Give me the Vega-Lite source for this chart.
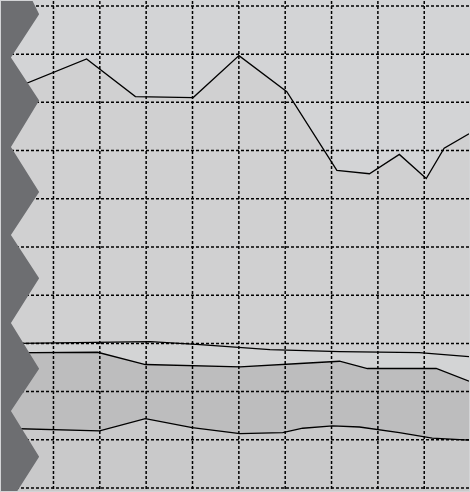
{
  "$schema": "https://vega.github.io/schema/vega-lite/v6.json",
  "width": 470,
  "height": 492,
  "padding": 0,
  "autosize": {"type": "fit", "contains": "padding"},
  "background": "#d3d4d6",
  "config": {"view": {"stroke": null}},
  "datasets": {
    "series": [
      {"s": "top", "t": -0.132, "v": 8.18},
      {"s": "top", "t": 1.715, "v": 8.90},
      {"s": "top", "t": 2.768, "v": 8.12},
      {"s": "top", "t": 4.015, "v": 8.10},
      {"s": "top", "t": 5.003, "v": 8.97},
      {"s": "top", "t": 6.035, "v": 8.22},
      {"s": "top", "t": 7.115, "v": 6.59},
      {"s": "top", "t": 7.818, "v": 6.52},
      {"s": "top", "t": 8.463, "v": 6.92},
      {"s": "top", "t": 9.043, "v": 6.42},
      {"s": "top", "t": 9.430, "v": 7.05},
      {"s": "top", "t": 9.966, "v": 7.35},
      {"s": "A", "t": -0.132, "v": 2.996},
      {"s": "A", "t": 3.091, "v": 3.037},
      {"s": "A", "t": 4.165, "v": 2.975},
      {"s": "A", "t": 5.669, "v": 2.872},
      {"s": "A", "t": 7.173, "v": 2.831},
      {"s": "A", "t": 8.892, "v": 2.810},
      {"s": "A", "t": 9.966, "v": 2.727},
      {"s": "B", "t": -0.132, "v": 2.804},
      {"s": "B", "t": 1.952, "v": 2.816},
      {"s": "B", "t": 2.983, "v": 2.562},
      {"s": "B", "t": 5.025, "v": 2.514},
      {"s": "B", "t": 6.314, "v": 2.583},
      {"s": "B", "t": 7.173, "v": 2.630},
      {"s": "B", "t": 7.775, "v": 2.479},
      {"s": "B", "t": 9.258, "v": 2.479},
      {"s": "B", "t": 9.966, "v": 2.217},
      {"s": "C", "t": -0.132, "v": 1.240},
      {"s": "C", "t": 1.995, "v": 1.184},
      {"s": "C", "t": 2.983, "v": 1.440},
      {"s": "C", "t": 3.993, "v": 1.254},
      {"s": "C", "t": 5.025, "v": 1.130},
      {"s": "C", "t": 5.948, "v": 1.151},
      {"s": "C", "t": 6.378, "v": 1.240},
      {"s": "C", "t": 7.023, "v": 1.287},
      {"s": "C", "t": 7.603, "v": 1.266},
      {"s": "C", "t": 8.463, "v": 1.150},
      {"s": "C", "t": 9.172, "v": 1.033},
      {"s": "C", "t": 9.966, "v": 0.992}
    ],
    "hgrid": [
      {"g": 0}, {"g": 1}, {"g": 2}, {"g": 3}, {"g": 4}, {"g": 5},
      {"g": 6}, {"g": 7}, {"g": 8}, {"g": 9}, {"g": 10}
    ],
    "vgrid": [
      {"g": 0}, {"g": 1}, {"g": 2}, {"g": 3}, {"g": 4}, {"g": 5},
      {"g": 6}, {"g": 7}, {"g": 8}, {"g": 9}
    ],
    "edge": [
      {"zy": 10.103, "zx": 0.55},
      {"zy": 9.829, "zx": 0.691},
      {"zy": 8.932, "zx": 0.0825},
      {"zy": 8.037, "zx": 0.691},
      {"zy": 7.072, "zx": 0.0825},
      {"zy": 6.143, "zx": 0.691},
      {"zy": 5.248, "zx": 0.0825},
      {"zy": 4.353, "zx": 0.691},
      {"zy": 3.424, "zx": 0.0825},
      {"zy": 2.473, "zx": 0.691},
      {"zy": 1.597, "zx": 0.0825},
      {"zy": 0.647, "zx": 0.691},
      {"zy": -0.062, "zx": 0.220}
    ]
  },
  "layer": [
    {
      "data": {"name": "series"},
      "transform": [{"filter": "datum.s === 'top'"}],
      "mark": {"type": "area", "color": "#cecece", "clip": true, "line": {"color": "#000000", "strokeWidth": 1.3}},
      "encoding": {
        "x": {"field": "t", "type": "quantitative", "axis": null, "scale": {"domain": [-0.132, 9.966], "nice": false, "zero": false}},
        "y": {"field": "v", "type": "quantitative", "axis": null, "scale": {"domain": [-0.062, 10.103], "nice": false, "zero": false}},
        "y2": {"datum": -0.2}
      }
    },
    {
      "data": {"name": "series"},
      "transform": [{"filter": "datum.s === 'A'"}],
      "mark": {"type": "area", "color": "#d4d5d7", "clip": true, "line": {"color": "#000000", "strokeWidth": 1.3}},
      "encoding": {
        "x": {"field": "t", "type": "quantitative"},
        "y": {"field": "v", "type": "quantitative"},
        "y2": {"datum": -0.2}
      }
    },
    {
      "data": {"name": "series"},
      "transform": [{"filter": "datum.s === 'B'"}],
      "mark": {"type": "area", "color": "#b4b4b4", "clip": true, "line": {"color": "#000000", "strokeWidth": 1.3}},
      "encoding": {
        "x": {"field": "t", "type": "quantitative"},
        "y": {"field": "v", "type": "quantitative"},
        "y2": {"datum": -0.2}
      }
    },
    {
      "data": {"name": "series"},
      "transform": [{"filter": "datum.s === 'C'"}],
      "mark": {"type": "area", "color": "#cecece", "clip": true, "line": {"color": "#000000", "strokeWidth": 1.3}},
      "encoding": {
        "x": {"field": "t", "type": "quantitative"},
        "y": {"field": "v", "type": "quantitative"},
        "y2": {"datum": -0.2}
      }
    },
    {
      "data": {"name": "hgrid"},
      "mark": {"type": "rule", "color": "#000000", "strokeWidth": 1.5, "strokeDash": [3, 2]},
      "encoding": {"y": {"field": "g", "type": "quantitative"}}
    },
    {
      "data": {"name": "vgrid"},
      "mark": {"type": "rule", "color": "#000000", "strokeWidth": 1.5, "strokeDash": [3, 2]},
      "encoding": {"x": {"field": "g", "type": "quantitative"}}
    },
    {
      "data": {"name": "edge"},
      "mark": {"type": "area", "orient": "horizontal", "color": "#6d6e71", "clip": true},
      "encoding": {
        "y": {"field": "zy", "type": "quantitative"},
        "x": {"field": "zx", "type": "quantitative"},
        "x2": {"datum": -0.3}
      }
    }
  ]
}
